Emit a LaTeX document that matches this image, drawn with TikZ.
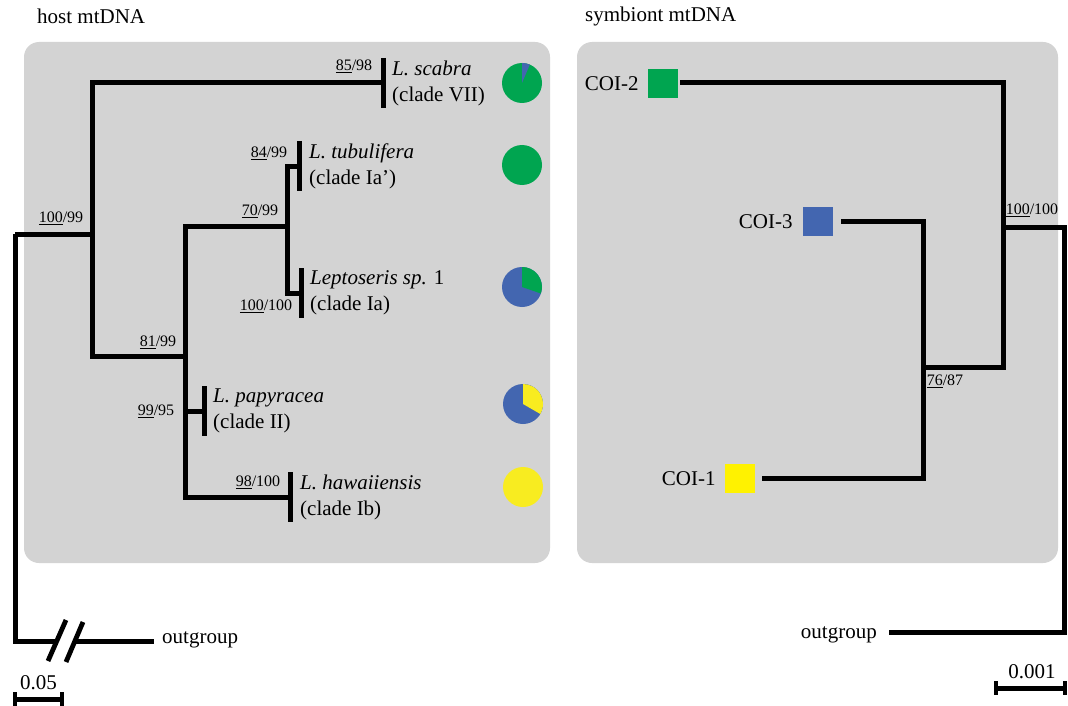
\documentclass[tikz,border=0pt]{standalone}
\usepackage{fontspec}
\setmainfont{Liberation Serif}
\usetikzlibrary{positioning}
\definecolor{panelgray}{RGB}{211,211,211}
\definecolor{pieGreen}{RGB}{0,165,80}
\definecolor{pieBlue}{RGB}{67,102,176}
\definecolor{pieYellow}{RGB}{248,236,32}
\definecolor{sqYellow}{RGB}{255,242,0}
\begin{document}
\begin{tikzpicture}[
            x=1pt, y=-1pt,
            panel/.style ={fill=panelgray, rounded corners=15pt},
            branch/.style={line width=5pt, line join=miter},
            tipbar/.style={line width=5pt},
            brk/.style   ={line width=4.8pt},
            taxon/.style ={inner sep=0pt, align=left, font=\fontsize{21}{26}\selectfont},
            supp/.style  ={inner sep=0pt, font=\fontsize{16}{19}\selectfont},
            lbl/.style   ={inner sep=0pt, font=\fontsize{21}{26}\selectfont},
            sq/.style    ={inner sep=0pt, minimum width=30pt, minimum height=29pt}
        ]
            \useasboundingbox (0,0) rectangle (1068,706);

            %-----------------  Paneles de fondo  --------------------
            \fill[panel] (24,42) rectangle (550,563);
            \fill[panel] (577,42) rectangle (1058,563);
            \node[lbl, anchor=west] (tHost) at (37,16) {host mtDNA};
            \node[lbl, anchor=west] (tSym) at (585,16) {symbiont mtDNA};

            %-----------------  Arbol del huesped  --------------------
            \coordinate (h0) at (15,234);          % raiz
            \coordinate (h1) at (92,234);
            \coordinate (h2) at (185,356);
            \coordinate (h3) at (287,226);
            \coordinate (tScabra) at (383,83);
            \coordinate (tTubu) at (299,166);
            \coordinate (tLept) at (301,293);
            \coordinate (tPapy) at (204,411);
            \coordinate (tHawa) at (290,497);
            \coordinate (hBrkA) at (57,641);
            \coordinate (hBrkB) at (75,641);
            \coordinate (hOut) at (154,641);

            \draw[branch] (h0) -- (h1);
            \draw[branch] (h1) |- (tScabra);
            \draw[branch] (h1) |- (h2);
            \draw[branch] (h2) |- (h3);
            \draw[branch] (h2) |- (tPapy);
            \draw[branch] (h2) |- (tHawa);
            \draw[branch] (h3) |- (tTubu);
            \draw[branch] (h3) |- (tLept);

            % Barras terminales
            \foreach \t in {tScabra,tTubu,tLept,tPapy,tHawa}
                \draw[tipbar] (\t) ++(0,-25) -- ++(0,50);

            % Grupo externo con corte
            \draw[branch] (h0) |- (hBrkA);
            \draw[branch] (hBrkB) -- (hOut);
            \draw[brk] (hBrkA) ++(9,-21) -- ++(-18,41);
            \draw[brk] (hBrkB) ++(8,-19) -- ++(-17,40);
            \node[lbl, anchor=base west] (hOutL) at (162,643) {outgroup};

            % Etiquetas de taxones
            \node[taxon, right=9pt of tScabra] (lScabra) {\textit{L. scabra}\\(clade VII)};
            \node[taxon, right=10pt of tTubu] (lTubu) {\textit{L. tubulifera}\\(clade Ia’)};
            \node[taxon, right=9pt of tLept] (lLept) {\textit{Leptoseris sp.} 1\\(clade Ia)};
            \node[taxon, right=9pt of tPapy] (lPapy) {\textit{L. papyracea}\\(clade II)};
            \node[taxon, right=10pt of tHawa] (lHawa) {\textit{L. hawaiiensis}\\(clade Ib)};

            % Valores de soporte
            \node[supp] (s100a) at (61,218) {\underline{100}/99};
            \node[supp] (s85) at (354,66) {\underline{85}/98};
            \node[supp] (s84) at (269,153) {\underline{84}/99};
            \node[supp] (s70) at (260,211) {\underline{70}/99};
            \node[supp] (s100b) at (266,306) {\underline{100}/100};
            \node[supp] (s81) at (158,342) {\underline{81}/99};
            \node[supp] (s99) at (156,411) {\underline{99}/95};
            \node[supp] (s98) at (258,482) {\underline{98}/100};

            % Graficos de sectores
            \coordinate (p1) at (522,83);
            \coordinate (p2) at (522,165);
            \coordinate (p3) at (522,287);
            \coordinate (p4) at (523,404);
            \coordinate (p5) at (523,487);
            \def\r{20pt}
            \fill[pieGreen] (p1) circle (\r);
            \fill[pieBlue] (p1) -- ++(67:\r) arc[start angle=67, end angle=90, radius=\r] -- cycle;
            \fill[pieGreen] (p2) circle (\r);
            \fill[pieBlue] (p3) circle (\r);
            \fill[pieGreen] (p3) -- ++(-19:\r) arc[start angle=-19, end angle=90, radius=\r] -- cycle;
            \fill[pieBlue] (p4) circle (\r);
            \fill[pieYellow] (p4) -- ++(-30:\r) arc[start angle=-30, end angle=90, radius=\r] -- cycle;
            \fill[pieYellow] (p5) circle (\r);

            % Escala
            \coordinate (hsA) at (15,699);
            \coordinate (hsB) at (62,699);
            \draw[branch] (hsA) -- (hsB);
            \draw[brk] (hsA) ++(0,-7) -- ++(0,14);
            \draw[brk] (hsB) ++(0,-7) -- ++(0,14);
            \node[lbl] (hsL) at (38.5,683) {0.05};

            %-----------------  Arbol del simbionte  --------------------
            \coordinate (s0) at (1064,227);        % raiz
            \coordinate (s1) at (1003,227);
            \coordinate (s2) at (923,367);
            \coordinate (tC2) at (680,83);
            \coordinate (tC3) at (841,221);
            \coordinate (tC1) at (762,478);
            \coordinate (sOut) at (889,632);

            \draw[branch] (s1) -- (s0) |- (sOut);
            \draw[branch] (s1) |- (tC2);
            \draw[branch] (s1) |- (s2);
            \draw[branch] (s2) |- (tC3);
            \draw[branch] (s2) |- (tC1);

            % Haplotipos
            \node[sq, fill=pieGreen] (qC2) at (663,83.5) {};
            \node[sq, fill=pieBlue] (qC3) at (818,221.5) {};
            \node[sq, fill=sqYellow] (qC1) at (740,478.5) {};
            \node[lbl, left=9pt of qC2] (lC2) {COI-2};
            \node[lbl, left=10pt of qC3] (lC3) {COI-3};
            \node[lbl, left=9pt of qC1] (lC1) {COI-1};

            \node[supp] (s100c) at (1032,210) {\underline{100}/100};
            \node[supp] (s76) at (945,381) {\underline{76}/87};
            \node[lbl, anchor=base east] (sOutL) at (877,638) {outgroup};

            % Escala
            \coordinate (ssA) at (996,688);
            \coordinate (ssB) at (1065,688);
            \draw[branch] (ssA) -- (ssB);
            \draw[brk] (ssA) ++(0,-7) -- ++(0,14);
            \draw[brk] (ssB) ++(0,-7) -- ++(0,14);
            \node[lbl] (ssL) at (1032,672) {0.001};
        \end{tikzpicture}
\end{document}
